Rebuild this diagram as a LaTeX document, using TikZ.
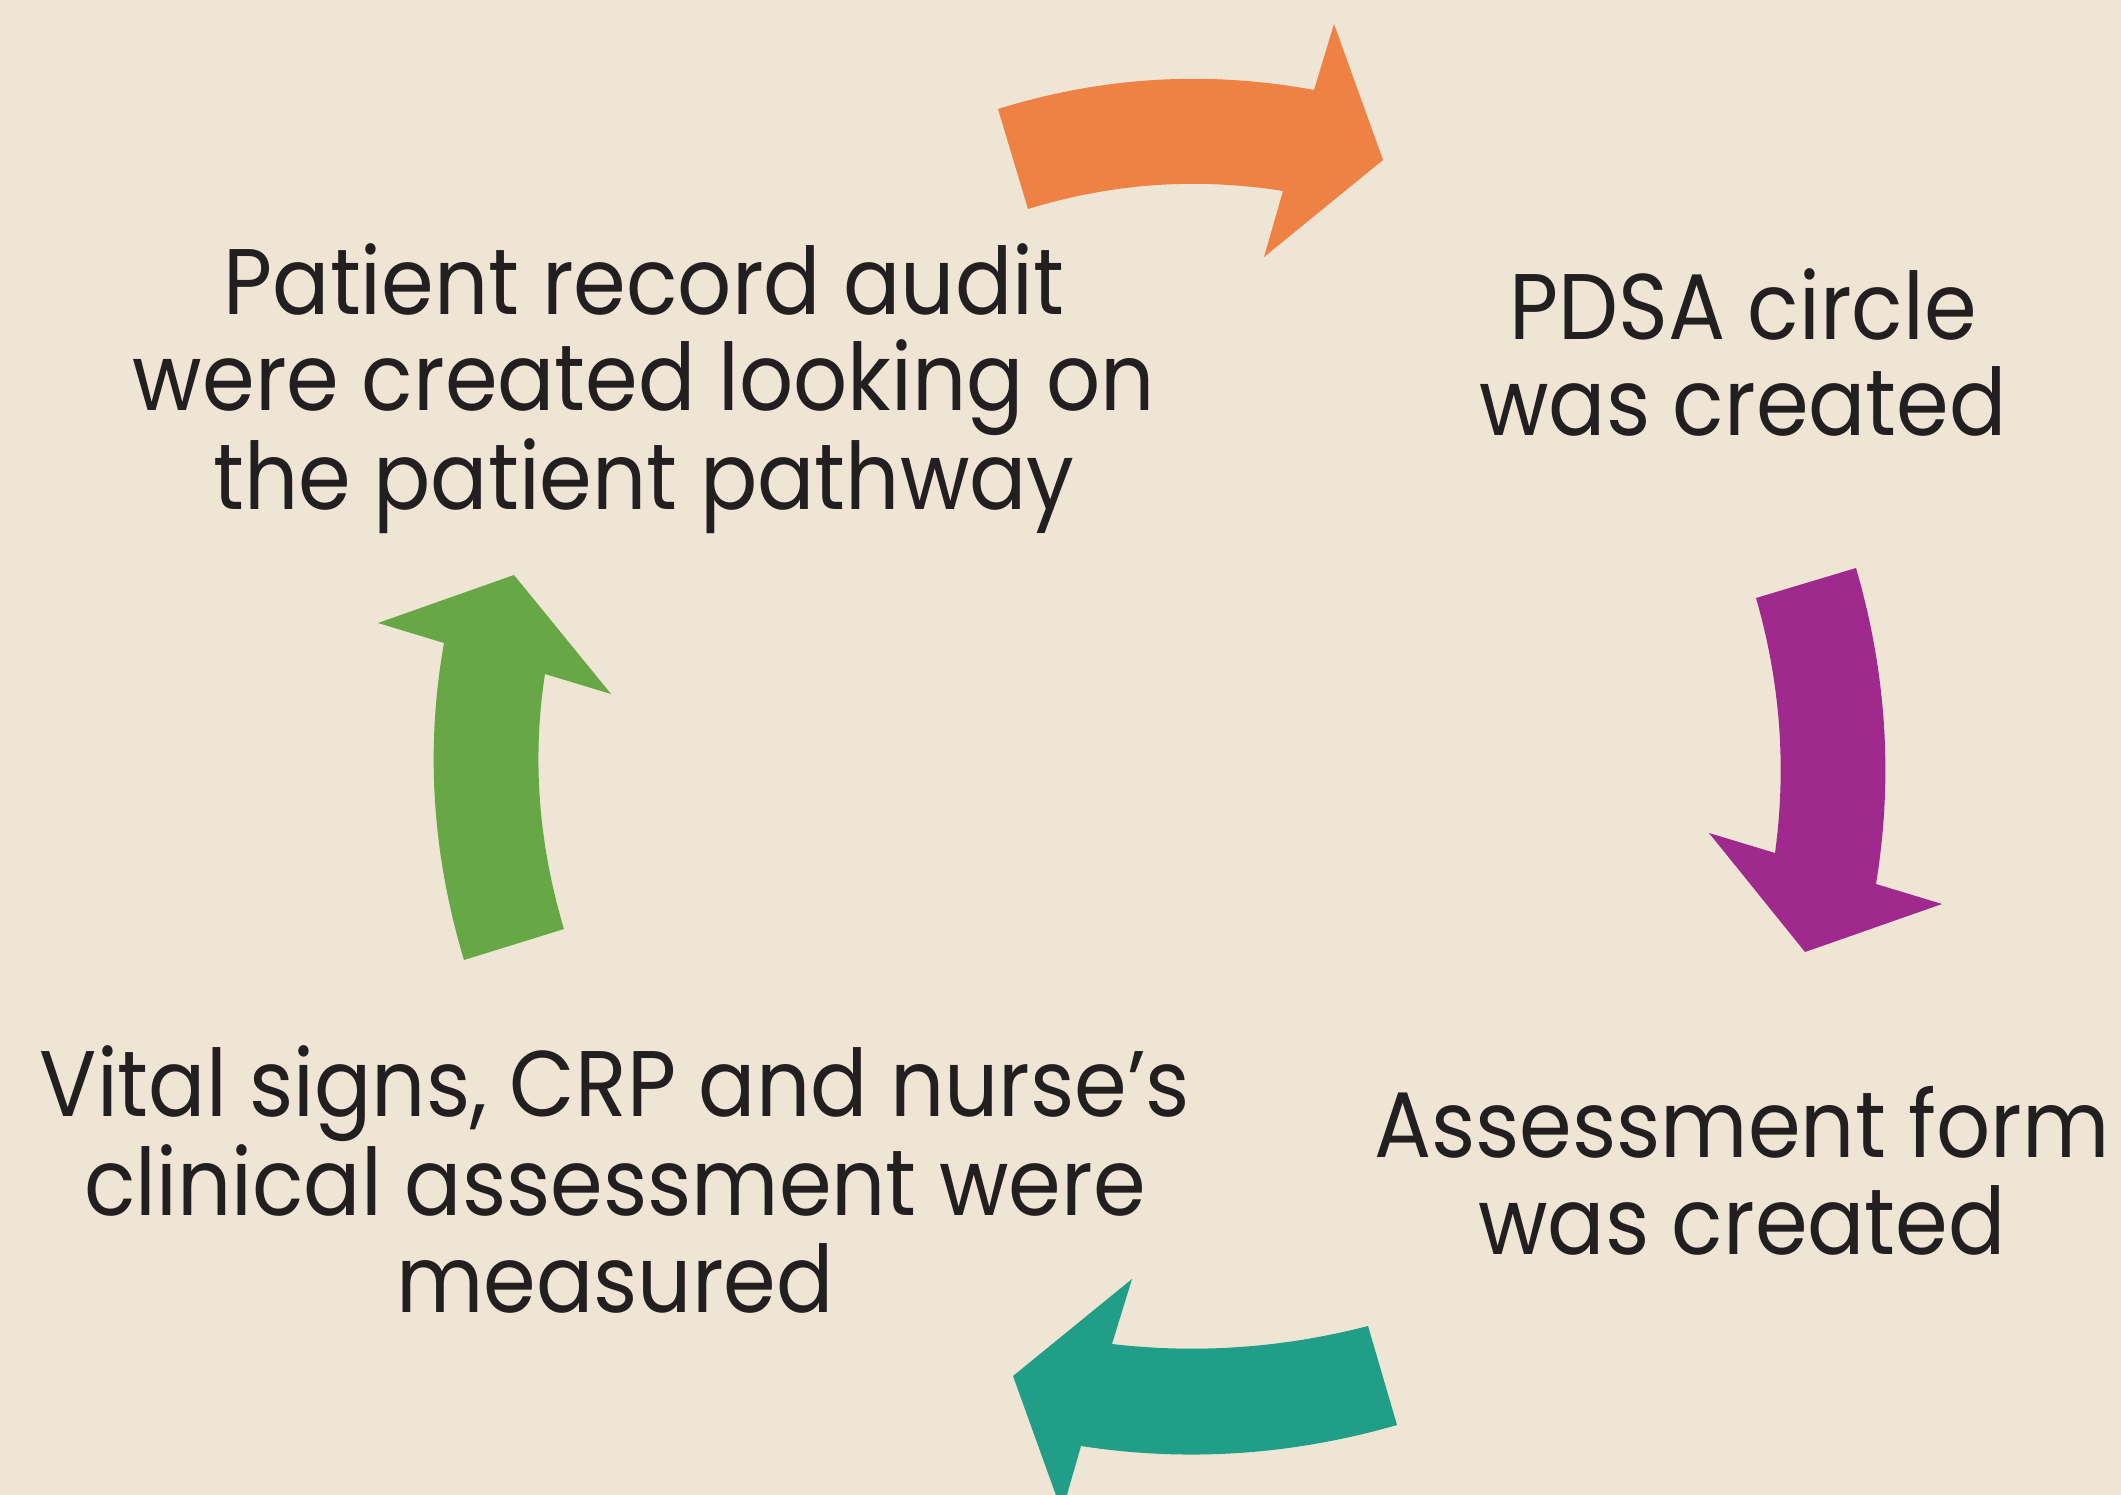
\documentclass[tikz,border=0pt]{standalone}
\usepackage{fontspec}
\newfontfamily\labelfont[FakeStretch=0.91]{Poppins}
\definecolor{bg}{HTML}{EEE5D4}
\definecolor{ink}{HTML}{231F20}
\definecolor{arrOrange}{HTML}{EE8144}
\definecolor{arrPurple}{HTML}{A0298D}
\definecolor{arrTeal}{HTML}{209E87}
\definecolor{arrGreen}{HTML}{67A745}
\begin{document}
\begin{tikzpicture}[x=0.01cm,y=0.01cm,yscale=-1,
  bigarrow/.style={draw=none},
  steptext/.style={font=\labelfont\fontsize{26.5}{27.3}\selectfont,
    text=ink, align=center, inner sep=0pt, anchor=base}]
% page and background
\fill[bg] (0,0) rectangle (2121,1495);
\useasboundingbox (0,0) rectangle (2121,1495);
\clip (0,0) rectangle (2121,1495);

% top arrow, pointing right
\fill[bigarrow, arrOrange] (998,109) .. controls (1102,76.7) and (1207.3,70.3) .. (1314,90)
  -- (1334,24) -- (1383,160) -- (1264,257) -- (1283,191)
  .. controls (1196.5,177.3) and (1111.5,183.3) .. (1028,209) -- cycle;
% right arrow, pointing down
\fill[bigarrow, arrPurple] (1856,568) .. controls (1886.7,673.3) and (1893.3,778.7) .. (1876,884)
  -- (1942,904) -- (1805,952) -- (1709,833) -- (1775,853)
  .. controls (1786.7,767.3) and (1780.3,682.3) .. (1756,598) -- cycle;
% bottom arrow, pointing left
\fill[bigarrow, arrTeal] (1397,1425) .. controls (1291.7,1455.3) and (1186.3,1462.3) .. (1081,1446)
  -- (1062,1512) -- (1013,1376) -- (1132,1279) -- (1112,1344)
  .. controls (1197.3,1354) and (1282.7,1348) .. (1368,1326) -- cycle;
% left arrow, pointing up
\fill[bigarrow, arrGreen] (464,960) .. controls (432,853.7) and (425.3,748) .. (444,643)
  -- (378,623) -- (514,575) -- (611,694) -- (545,674)
  .. controls (532,758.3) and (538.3,843.3) .. (564,929) -- cycle;

% the four steps (anchored on the baseline of the last line)
\node[steptext] (audit) at (644,510) {Patient record audit\\were created looking on\\the patient pathway};
\node[steptext] (pdsa) at (1743,436) {PDSA circle\\was created};
\node[steptext] (form) at (1742,1254) {Assessment form\\was created};
\node[steptext] (vital) at (615,1312) {Vital signs, CRP and nurse’s\\clinical assessment were\\measured};
\end{tikzpicture}
\end{document}
